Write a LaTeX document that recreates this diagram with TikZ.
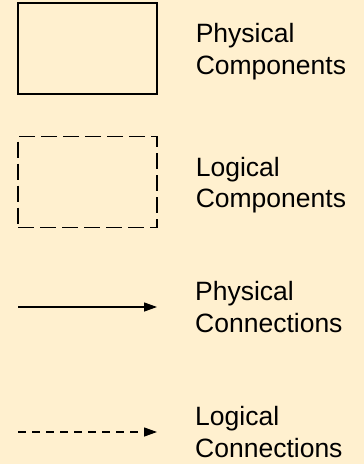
\documentclass[tikz,border=0pt]{standalone}
\usepackage{fontspec}
\setmainfont{Liberation Sans}
\usepackage{tikz}
\usepackage{xcolor}
\usetikzlibrary{arrows.meta, positioning}

\definecolor{legendbg}{RGB}{255,240,207}

\begin{document}
\begin{tikzpicture}[x=1pt, y=-1pt,
    legtext/.style={inner sep=0pt, align=left, font=\fontsize{26.5}{31.5}\selectfont},
    physbox/.style={draw, line width=1.2pt, minimum width=139pt, minimum height=91pt, inner sep=0pt},
    logbox/.style={physbox, dash pattern=on 16pt off 6pt},
    physline/.style={line width=1.3pt, -{Triangle[length=13pt, width=9pt]}},
    logline/.style={physline, dash pattern=on 8pt off 6pt}]
  % Background
  \fill[legendbg] (0,0) rectangle (364,464);
  \useasboundingbox (0,0) rectangle (364,464);

  % Components
  \node[physbox] (pcomp) at (87.5, 48.5) {};
  \node[logbox] (lcomp) at (87.5, 182) {};

  % Connections
  \coordinate (pconnA) at (18, 307);
  \coordinate (pconnB) at (157, 307);
  \draw[physline] (pconnA) -- (pconnB);
  \coordinate (lconnA) at (18, 432);
  \coordinate (lconnB) at (157, 432);
  \draw[logline] (lconnA) -- (lconnB);

  % Labels
  \node[legtext, right=38pt of pcomp, yshift=-3pt] (pcomptxt) {Physical\\Components};
  \node[legtext, right=38pt of lcomp, yshift=-3pt] (lcomptxt) {Logical\\Components};
  \node[legtext, right=38pt of pconnB] (pconntxt) {Physical\\Connections};
  \node[legtext, right=38pt of lconnB] (lconntxt) {Logical\\Connections};
\end{tikzpicture}
\end{document}
